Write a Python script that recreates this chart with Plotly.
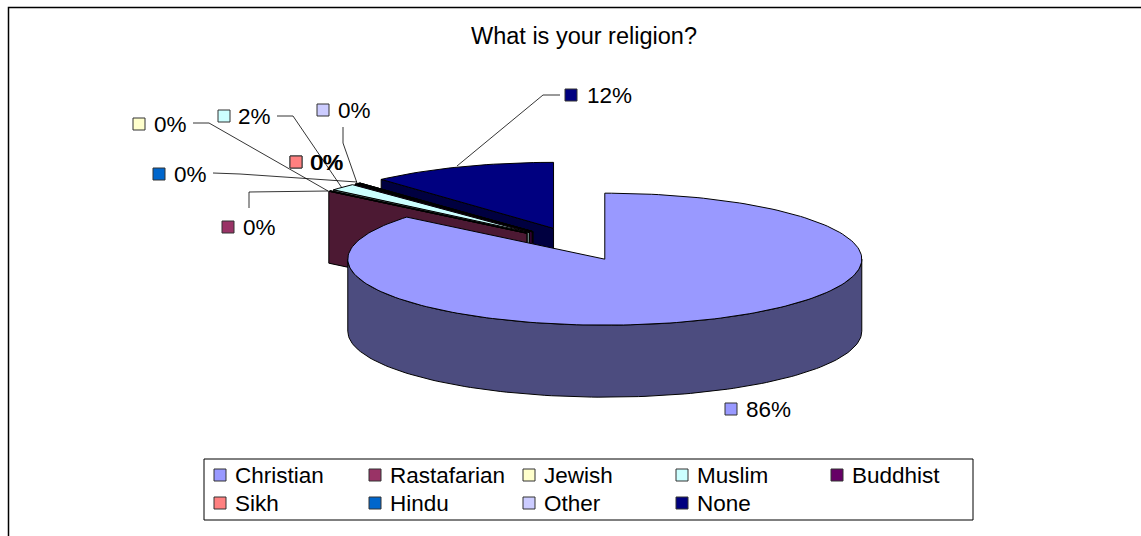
import math
import plotly.graph_objects as go

categories = ["Christian", "Rastafarian", "Jewish", "Muslim", "Buddhist", "Sikh", "Hindu", "Other", "None"]
values = [86.0, 0.1, 0.1, 1.7, 0.1, 0.1, 0.1, 0.1, 11.7]
top_colors = ["#9999FF", "#993366", "#FFFFCC", "#CCFFFF", "#660066", "#FF8080", "#0066CC", "#CCCCFF", "#000080"]
side_colors = ["#4C4C7F", "#4C1933", "#7F7F66", "#667F7F", "#330033", "#7F4040", "#003366", "#66667F", "#000040"]

W, H = 1141, 536
BX, BY, RX, RY, DEPTH, EXPLODE = 577.0, 244.0, 257.0, 66.0, 72.0, 0.254
FONT = "Liberation Sans, Arial, sans-serif"
LABEL_SIZE = 22.5

# label layout: swatch centre x, y, text left x
label_layout = {
    "Christian": (731, 409, 745), "Rastafarian": (228, 227, 242), "Jewish": (139, 124, 153),
    "Muslim": (224, 116, 237), "Buddhist": (296, 162, 309), "Sikh": (296, 162, 310),
    "Hindu": (159, 174, 173), "Other": (323, 110, 337), "None": (571, 95, 586),
}
leaders = [
    [(457, 166), (543, 95), (560, 95)],
    [(343, 127), (343, 143), (357, 183)],
    [(277, 116), (293, 116), (342, 188)],
    [(193, 123), (209, 123), (328, 191)],
    [(213, 173), (240, 174), (357, 182)],
    [(249, 208), (249, 192), (328, 191)],
]
legend_cols = [220, 375, 529, 682, 837]
legend_rows = [475, 503]


def pt(cx, cy, deg, dz=0.0):
    t = math.radians(deg)
    return cx + RX * math.sin(t), cy - RY * math.cos(t) + dz


def arc(cx, cy, a, b, dz=0.0, step=1.5):
    n = max(2, int(abs(b - a) / step) + 1)
    return [pt(cx, cy, a + (b - a) * i / (n - 1), dz) for i in range(n)]


def poly(fig, pts, fill, width=1.0):
    xs = [p[0] for p in pts] + [pts[0][0]]
    ys = [p[1] for p in pts] + [pts[0][1]]
    fig.add_trace(go.Scatter(x=xs, y=ys, mode="lines", fill="toself", fillcolor=fill,
                             line=dict(color="#000000", width=width),
                             showlegend=False, hoverinfo="skip"))


def swatch(fig, x, y, col):
    fig.add_trace(go.Scatter(x=[x], y=[y], mode="markers",
                             marker=dict(symbol="square", size=12, color=col,
                                         line=dict(color="#333333", width=1)),
                             showlegend=False, hoverinfo="skip"))


fig = go.Figure()

# slice angles from the values (clockwise from 12 o'clock)
total = sum(values)
angles = {}
acc = 0.0
for name, v in zip(categories, values):
    start = acc / total * 360
    acc += v
    angles[name] = (start, acc / total * 360)


def centre(name):
    a, b = angles[name]
    m = math.radians((a + b) / 2)
    return BX + EXPLODE * RX * math.sin(m), BY - EXPLODE * RY * math.cos(m)


# back to front
for name in ["None", "Other", "Hindu", "Sikh", "Buddhist", "Muslim", "Jewish", "Rastafarian"]:
    i = categories.index(name)
    a, b = angles[name]
    cx, cy = centre(name)
    p = pt(cx, cy, a)
    poly(fig, [(cx, cy), p, (p[0], p[1] + DEPTH), (cx, cy + DEPTH)], side_colors[i])
    poly(fig, [(cx, cy)] + arc(cx, cy, a, b), top_colors[i])

# front slice: rim, then top
a, b = angles["Christian"]
cx, cy = centre("Christian")
rim = arc(cx, cy, 90, 270) + arc(cx, cy, 270, 90, DEPTH)
poly(fig, rim, side_colors[0])
poly(fig, [(cx, cy)] + arc(cx, cy, a, b), top_colors[0])

# leader lines
for line in leaders:
    fig.add_trace(go.Scatter(x=[p[0] for p in line], y=[p[1] for p in line], mode="lines",
                             line=dict(color="#000000", width=0.8),
                             showlegend=False, hoverinfo="skip"))

# data labels
annotations = []
for name, v, col in zip(categories, values, top_colors):
    sx, sy, tx = label_layout[name]
    swatch(fig, sx, sy, col)
    annotations.append(dict(x=tx, y=sy, xref="x", yref="y", text=f"{round(v)}%", showarrow=False,
                            xanchor="left", yanchor="middle", xshift=-1,
                            font=dict(family=FONT, size=LABEL_SIZE, color="#000000")))

# legend
for k, (name, col) in enumerate(zip(categories, top_colors)):
    lx = legend_cols[k % 5]
    ly = legend_rows[k // 5]
    swatch(fig, lx, ly, col)
    annotations.append(dict(x=lx + 14, y=ly, xref="x", yref="y", text=name, showarrow=False,
                            xanchor="left", yanchor="middle", xshift=-1,
                            font=dict(family=FONT, size=LABEL_SIZE, color="#000000")))

annotations.append(dict(x=583.5, y=36, xref="x", yref="y", text="What is your religion?", showarrow=False,
                        xanchor="center", yanchor="middle",
                        font=dict(family=FONT, size=23.5, color="#000000")))

fig.update_layout(
    width=W, height=H, margin=dict(l=0, r=0, t=0, b=0),
    paper_bgcolor="#FFFFFF", plot_bgcolor="#FFFFFF",
    xaxis=dict(range=[0, W], visible=False, fixedrange=True),
    yaxis=dict(range=[H, 0], visible=False, fixedrange=True),
    annotations=annotations,
    shapes=[
        dict(type="rect", xref="x", yref="y", x0=8.5, y0=7.5, x1=1160, y1=560,
             line=dict(color="#000000", width=1.5), fillcolor="rgba(0,0,0,0)", layer="below"),
        dict(type="rect", xref="x", yref="y", x0=204, y0=459, x1=973, y1=520,
             line=dict(color="#000000", width=1), fillcolor="#FFFFFF", layer="below"),
    ],
    showlegend=False,
)
fig.write_html("out.html", config=dict(displayModeBar=False),
               post_script="document.body.style.margin='0';")
